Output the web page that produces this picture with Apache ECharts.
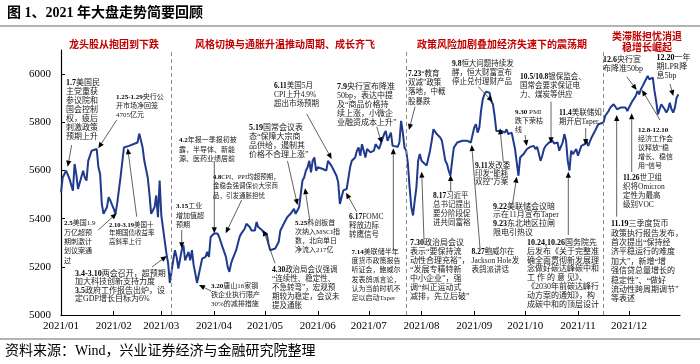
<!DOCTYPE html>
<html><head><meta charset="utf-8">
<script src="https://cdn.jsdelivr.net/npm/echarts@6/dist/echarts.min.js"></script>
<style>html,body{margin:0;padding:0;background:#fff}#c{width:700px;height:364px}</style>
</head><body><div id="c"></div><script>
// ---- data ----
const tradeDates = [
'01-01','01-02','01-04','01-06','01-08','01-09','01-10','01-11','01-12','01-14','01-15','01-16','01-17','01-19','01-22','01-23','01-24','01-25','01-26','01-28','01-29','01-30',
'02-01','02-02','02-03','02-05','02-07','02-10','02-15','02-16','02-18','02-19','02-21','02-22','02-23','02-25','02-26','02-27','02-28',
'03-01','03-02','03-04','03-05','03-06','03-08','03-09','03-10','03-11','03-13','03-14','03-15','03-17','03-18','03-19','03-20','03-21','03-22','03-23','03-25','03-27','03-28','03-29','03-30',
'04-01','04-03','04-04','04-06','04-08','04-09','04-10','04-11','04-12','04-14','04-16','04-17','04-19','04-20','04-22','04-23','04-25','04-26','04-27','04-29','04-30',
'05-02','05-03','05-04','05-07','05-09','05-10','05-12','05-14','05-16','05-18','05-19','05-21','05-22','05-23','05-24','05-25','05-26','05-27','05-28','05-29','05-30','05-31',
'06-01','06-02','06-04','06-06','06-07','06-08','06-09','06-10','06-12','06-13','06-14','06-15','06-16','06-18','06-19','06-20','06-21','06-23','06-24','06-25','06-26','06-27','06-28','06-29','06-30',
'07-02','07-04','07-05','07-06','07-07','07-08','07-10','07-11','07-12','07-13','07-14','07-15','07-16','07-18','07-19','07-20','07-21','07-22','07-23','07-24','07-25','07-26','07-27','07-28','07-29','07-30','07-31',
'08-01','08-02','08-04','08-06','08-07','08-08','08-09','08-10','08-11','08-12','08-13','08-14','08-15','08-16','08-17','08-18','08-19','08-20','08-22','08-25','08-28','08-30','08-31',
'09-01','09-02','09-03','09-04','09-05','09-06','09-07','09-08','09-09','09-10','09-11','09-12','09-13','09-14','09-15','09-17','09-18','09-19','09-20','09-21','09-23','09-24','09-25','09-26','09-27','09-28','09-30',
'10-02','10-04','10-05','10-06','10-07','10-08','10-09','10-10','10-11','10-12','10-13','10-15','10-16','10-17','10-18','10-20','10-21','10-22','10-23','10-24','10-25','10-26','10-27','10-28','10-29','10-30','10-31',
'11-01','11-02','11-03','11-04','11-05','11-06','11-07','11-08','11-09','11-10','11-11','11-12','11-13','11-14','11-16','11-17','11-18','11-19','11-20','11-21','11-22','11-23','11-24','11-25','11-26','11-27','11-29','11-30',
'12-01','12-02','12-03','12-04','12-05','12-06','12-07','12-08','12-09','12-10','12-11','12-12','12-13','12-14','12-15','12-16','12-17','12-18','12-19','12-20','12-21','12-22','12-23','12-24','12-25','12-26','12-27','12-28','12-29','12-30'
];
const indexValues = [
5509,5571,5599,5565,5516,5627,5585,5523,5530,5599,5571,5558,5640,5682,5689,5613,5585,5461,5420,5447,5489,5475,
5441,5420,5461,5571,5695,5702,5716,5753,5695,5640,5571,5503,5420,5447,5496,5406,5558,
5413,5406,5255,5214,5133,5227,5269,5241,5193,5269,5289,5227,5262,5227,5269,5207,5172,5133,5138,5234,5241,5262,5241,5324,
5338,5338,5324,5282,5241,5200,5179,5214,5234,5269,5324,5338,5358,5379,5365,5351,5351,5386,5365,5354,5344,
5338,5296,5269,5276,5303,5351,5379,5406,5420,5441,5420,5447,5503,5558,5571,5599,5613,5640,5592,5640,5654,5599,
5613,5620,5606,5599,5640,5633,5620,5606,5578,5551,5461,5489,5517,5523,5530,5613,5640,5654,5682,5695,5661,5709,5682,5654,5689,
5675,5682,5709,5702,5689,5709,5751,5764,5723,5716,5757,5702,5698,5698,5716,5806,5757,5695,5682,5627,5530,5447,5413,5475,5530,5640,5668,
5640,5640,5620,5682,5723,5771,5778,5751,5757,5737,5723,5682,5640,5627,5599,5578,5640,5695,5716,5723,5723,5716,5723,
5778,5792,5757,5778,5847,5895,5916,5927,5927,5923,5888,5875,5826,5764,5757,5764,5771,5757,5771,5751,5757,5723,5689,5682,5578,5654,5668,
5689,5698,5693,5702,5689,5698,5695,5640,5661,5689,5702,5716,5709,5723,5712,5716,5682,5689,5716,5751,5723,5640,5599,5682,5668,5675,5689,
5661,5668,5702,5695,5709,5723,5702,5695,5737,5744,5764,5778,5792,5799,5799,5826,5819,5847,5861,5868,5875,5868,5854,5847,5861,5868,5861,5847,
5854,5875,5888,5881,5909,5930,5916,5937,5950,5964,5971,5992,5978,5971,5985,5930,5888,5833,5826,5875,5875,5854,5840,5854,5881,5854,5840,5861,5902,5916
];
const yTicks = [5000, 5200, 5400, 5600, 5800, 6000];
const phaseBreaks = ['2021-03-07', '2021-07-23', '2021-11-16'];
const titleText = '图 1、2021 年大盘走势简要回顾';
const sourceText = '资料来源：Wind，兴业证券经济与金融研究院整理';
const phaseTitles = ['龙头股从抱团到下跌', '风格切换与通胀升温推动周期、成长齐飞', '政策风险加剧叠加经济失速下的震荡期', '类滞胀担忧消退\n稳增长崛起'];
const noteTexts = [
'{b|1.7}美国民\n主党重获\n参议院和\n国会控制\n权，疲后\n刺激政策\n预期上升',
'{b|1.25-1.29}央行公\n开市场净回笼\n4705亿元',
'{b|2.5}美国1.9\n万亿超预\n期刺激计\n划议案通\n过',
'{b|2.10-3.19}美国十\n年期国债收益率\n高斜率上行',
'{b|3.4-3.10}两会召开，超预期\n加大科技创新支持力度\n{b|3.5}政府工作报告出炉，设\n定GDP增长目标为6%',
'{b|3.15}工业\n增加值超\n预期',
'{b|3.20}唐山16家钢\n铁企业执行限产\n30%的减排措施',
'{b|4.2}年报一季报初披\n露，半导体、新能\n源、医药业绩居前',
'{b|4.8}CPI、PPI均超预期，\n金稳会强调保价大宗商\n品，引发通胀担忧',
'{b|4.30}政治局会议强调\n“连续性、稳定性、\n不急转弯”，宏观预\n期较为稳定，会议未\n提及通胀',
'{b|5.19}国常会议表\n态“保障大宗商\n品供给，遏制其\n价格不合理上涨”',
'{b|5.25}科创板首\n次纳入MSCI指\n数，北向单日\n净流入217亿',
'{b|6.11}美国5月\nCPI上升4.9%\n超出市场预期',
'{b|6.17}FOMC\n释放边际\n转鹰信号',
'{b|7.9}央行宣布降准\n50bp，表达中提\n及“商品价格持\n续上涨，小微企\n业融资成本上升”',
'{b|7.14}美联储半年\n度货币政策报告\n听证会，鲍威尔\n发表鸽派言论，\n认为当前时机不\n足以启动Taper',
'{b|7.23}“教育\n双减”政策\n落地，中概\n股暴跌',
'{b|7.30}政治局会议\n表示“要保持流\n动性合理充裕”，\n“发展专精特新\n中小企业”，强\n调“纠正运动式\n减排，先立后破”',
'{b|8.17}习近平\n总书记提出\n要分阶段促\n进共同富裕',
'{b|8.27}鲍威尔在\nJackson Hole发\n表鸽派讲话',
'{b|9.8}恒大问题持续发\n酵，恒大财富宣布\n停止兑付理财产品',
'{b|9.11}发改委\n印发“能耗\n双控”方案',
'{b|9.22}美联储会议暗\n示在11月宣布Taper\n{b|9.23}东北地区拉闸\n限电引热议',
'{b|9.30} PMI\n跌下荣枯\n线',
'{b|10.5/10.8}银保监会、\n国常会要求保证电\n力、煤炭等供应',
'{b|10.24,10.26}国务院先\n后发布《关于完整准\n确全面贯彻新发展理\n念做好碳达峰碳中和\n工 作 的 意 见》、\n《2030年前碳达峰行\n动方案的通知》，构\n成碳中和的顶层设计',
'{b|11.4}美联储如\n期开启Taper',
'{b|11.19}三季度货币\n政策执行报告发布，\n首次提出“保持经\n济平稳运行的难度\n加大”，新增“增\n强信贷总量增长的\n稳定性”、“做好\n流动性跨周期调节”\n等表述',
'{b|11.26}世卫组\n织将Omicron\n定性为最高\n级别VOC',
'{b|12.6}央行宣\n布降准50bp',
'{b|12.20}一年\n期LPR降\n息5bp',
'{b|12.8-12.10}\n经济工作会\n议释放“稳\n增长、稳信\n用”信号'
];

// ---- layout (pixel placement of annotation boxes and leader arrows) ----
// [left, top, fontSize, lineHeight]
const noteBox = [
[66,78,8,9],[116,93,7,9],[64,219,7,9.3],[109,220.5,6.5,8.8],[75,269.5,8,8.5],[176,202,7,9.2],[211,281.5,7,9.2],
[179,135.5,7,9.5],[213,172.5,6.5,9.5],[272,266,7.5,9],[249,123,8,9],[295,219,7,9],[274,81.5,7.5,9],[349,212.5,7.5,9],
[337,82,8,9],[351.5,247.5,7,9.2],[408,69.5,7.5,9.2],[410,238,8,9],[433,192,7.5,8.8],[471.5,247.5,7.5,9.2],
[452,59,7.5,9.2],[475,161.5,7.5,8.4],[493,202,8,8.9],[515,108,7,9],[520,72,7.5,9.2],[527,238.5,8,8.8],[559,108,7.5,9.3],
[611,219.5,8,9.4],[623,174,7.5,9],[603,55,8,9],[656.5,53,8,9.3],[638,126,7,9]
];
// [fromX, fromY, tipX, tipY]
const leaders = [
[71.7,145,67.7,166.7],[116.7,120,98.3,148.3],[98.3,230,116.7,213.3],[136.7,216.7,127.7,148.3],[152,267,166.7,256],
[181.7,230,181.7,248.3],[211,291,199,285],[214.3,161.7,214.3,233.3],[241.7,200,225.7,233.3],[275,263.3,263.3,230],
[287.5,161,297.5,205],[310,221.7,305,188.3],[306.7,114,331.7,159],[356.7,211.7,346,192.7],[376.7,126.7,381.7,143.3],
[393.3,250,393.3,148.3],[415,106.7,409,130],[424,240,421.7,171.7],[450.7,192,450.7,175],[480,248.3,471.7,145],
[478.3,86.7,492.7,101.7],[503.3,161.7,500,128.3],[512.7,203.3,516.7,176.7],[525,135,526.7,146],[551,101.7,551,143.3],
[568.3,235,568.3,171.7],[585.7,128,585.7,145],[616.7,216.7,616.7,115],[631.7,172,631.7,113.3],[626.7,76.7,636.7,90],
[670,84,673.3,96],[660,120,642,90]
];
const phasePos = [[114,44],[285,44],[502,44],[647,41.5]];

const FF = '"Liberation Serif","Noto Sans CJK SC",serif';
const CJK = '"Noto Sans CJK SC",sans-serif';

const graphics = [];
graphics.push({type:'text', x:7, y:13, silent:true, style:{text:titleText, fontSize:14, fontWeight:'bold', fontFamily:FF, fill:'#000', verticalAlign:'middle'}});
graphics.push({type:'line', silent:true, shape:{x1:0,y1:26,x2:700,y2:26}, style:{stroke:'#9a9a9a', lineWidth:1.5}});
graphics.push({type:'line', silent:true, shape:{x1:0,y1:339,x2:700,y2:339}, style:{stroke:'#9a9a9a', lineWidth:1.5}});
graphics.push({type:'text', x:5, y:351, silent:true, style:{text:sourceText, fontSize:14, fontFamily:FF, fill:'#000', verticalAlign:'middle'}});
phaseTitles.forEach((t,i)=>{
  graphics.push({type:'text', x:phasePos[i][0], y:phasePos[i][1], silent:true,
    style:{text:t, fontSize:10, fontWeight:'bold', fontFamily:CJK, fill:'#c00000', align:'center', verticalAlign:'middle', lineHeight:11}});
});
noteTexts.forEach((t,i)=>{
  const [x,y,fs,lh] = noteBox[i];
  graphics.push({type:'text', x:x, y:y, silent:true, z:10,
    style:{text:t, fontSize:fs, fontFamily:FF, fill:'#1a1a1a', lineHeight:lh, align:'left', verticalAlign:'top',
      rich:{b:{fontSize:fs, fontFamily:FF, fontWeight:'bold', fill:'#000', lineHeight:lh}}}});
});
leaders.forEach(a=>{
  const [x1,y1,x2,y2] = a;
  const dx = x2-x1, dy = y2-y1, L = Math.hypot(dx,dy) || 1;
  const ux = dx/L, uy = dy/L, nx = -uy, ny = ux;
  const hl = 6, hw = 2.6;
  const bx = x2 - ux*hl, by = y2 - uy*hl;
  graphics.push({type:'line', silent:true, z:11, shape:{x1:x1,y1:y1,x2:bx,y2:by}, style:{stroke:'#3a3a3a', lineWidth:0.8}});
  graphics.push({type:'polygon', silent:true, z:11, shape:{points:[[x2,y2],[bx+nx*hw,by+ny*hw],[bx-nx*hw,by-ny*hw]]}, style:{fill:'#000'}});
});

const chart = echarts.init(document.getElementById('c'), null, {renderer:'canvas'});
chart.setOption({
  animation:false,
  backgroundColor:'#fff',
  grid:{left:61, right:20, top:50, bottom:49},
  xAxis:{
    type:'time', min:'2021-01-01', max:'2021-12-31', splitNumber:12,
    axisLine:{lineStyle:{color:'#000', width:1.2}},
    axisTick:{inside:true, length:4, lineStyle:{color:'#000'}},
    splitLine:{show:false},
    axisLabel:{formatter:'{yyyy}/{MM}', color:'#000', fontFamily:'"Liberation Serif",serif', fontSize:11, margin:6, showMaxLabel:false, hideOverlap:false}
  },
  yAxis:{
    type:'value', min:5000, max:6100,
    axisLine:{show:true, lineStyle:{color:'#000', width:1.2}},
    axisTick:{show:true, inside:true, length:4, customValues:yTicks, lineStyle:{color:'#000'}},
    splitLine:{show:false},
    axisLabel:{customValues:yTicks, formatter:function(v){return String(v);}, color:'#000', fontFamily:'"Liberation Serif",serif', fontSize:11, margin:10}
  },
  graphic:graphics,
  series:[
    {
      type:'line', showSymbol:false, symbol:'none',
      lineStyle:{color:'#1f3a8f', width:2},
      data: tradeDates.map((d,i)=>['2021-'+d, indexValues[i]]),
      markLine:{silent:true, symbol:'none', label:{show:false},
        lineStyle:{color:'#8c8c8c', type:[4,3], width:1},
        data: phaseBreaks.map(d=>({xAxis:d}))}
    }
  ]
});
</script></body></html>
